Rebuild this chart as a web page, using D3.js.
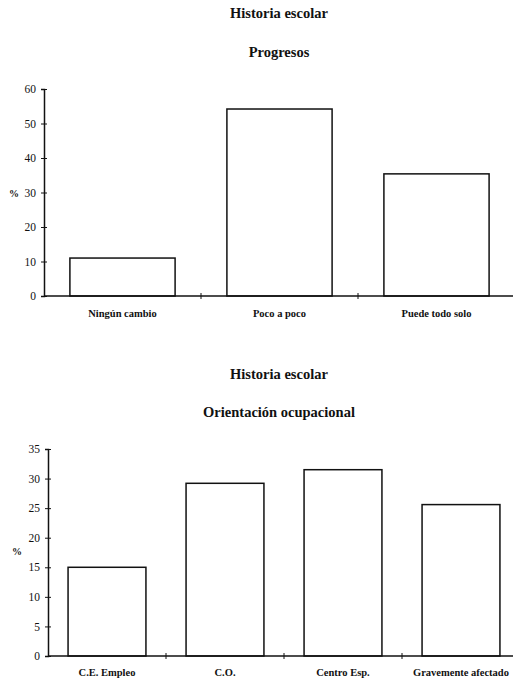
<!DOCTYPE html>
<html><head><meta charset="utf-8">
<script src="https://cdn.jsdelivr.net/npm/d3@7"></script>
<style>
body{margin:0;background:#fff;}
svg text{font-family:"Times New Roman","Liberation Serif","DejaVu Serif",Times,serif !important;}
</style></head>
<body><svg id="c" width="513" height="681"></svg>
<script>
const title1 = "Historia escolar";
const subtitle1 = "Progresos";
const categories1 = ["Ningún cambio","Poco a poco","Puede todo solo"];
const values1 = [11, 54.2, 35.4];
const yTicks1 = [0,10,20,30,40,50,60];

const title2 = "Historia escolar";
const subtitle2 = "Orientación ocupacional";
const categories2 = ["C.E. Empleo","C.O.","Centro Esp.","Gravemente afectado"];
const values2 = [15, 29.2, 31.5, 25.6];
const yTicks2 = [0,5,10,15,20,25,30,35];

const svg = d3.select("#c");

function txt(sel){ return sel.attr("font-family","Liberation Serif").attr("fill","#111"); }

function drawChart(cfg){
  const g = svg.append("g");
  txt(g.append("text")).attr("x",cfg.cx).attr("y",cfg.t1y).attr("text-anchor","middle")
    .style("font-size","14.5px").style("font-weight","bold").text(cfg.title);
  txt(g.append("text")).attr("x",cfg.cx).attr("y",cfg.t2y).attr("text-anchor","middle")
    .style("font-size","14.5px").style("font-weight","bold").text(cfg.subtitle);

  const x = d3.scaleBand().domain(cfg.cats).range([cfg.x0,cfg.x1]).paddingInner(cfg.pad).paddingOuter(cfg.pad/2);
  const y = d3.scaleLinear().domain([0,cfg.ymax]).range([cfg.y0,cfg.y1]);

  g.selectAll("rect.bar").data(cfg.vals).enter().append("rect")
    .attr("x",(d,i)=>x(cfg.cats[i])).attr("width",x.bandwidth())
    .attr("y",d=>y(d)).attr("height",d=>y(0)-y(d))
    .attr("fill","#fff").attr("stroke","#111").attr("stroke-width",1.5);

  const ya = d3.axisLeft(y).tickValues(cfg.ticks).tickSize(3).tickPadding(5);
  const yg = g.append("g").attr("transform",`translate(${cfg.x0},0)`).call(ya);
  yg.attr("font-family","Liberation Serif");
  yg.select(".domain").attr("stroke","#111").attr("stroke-width",1.5);
  yg.selectAll(".tick line").attr("x2",-3).attr("x1",3).attr("stroke","#111");
  txt(yg.selectAll(".tick text")).style("font-size","11.5px");

  const gap = (x.step()-x.bandwidth())/2;
  const xa = g.append("g").attr("transform",`translate(0,${cfg.y0})`);
  xa.append("line").attr("x1",cfg.x0).attr("x2",cfg.xend).attr("stroke","#111").attr("stroke-width",1.5);
  xa.selectAll("line.sep").data(cfg.cats.slice(1)).enter().append("line")
    .attr("x1",d=>x(d)-gap).attr("x2",d=>x(d)-gap)
    .attr("y1",-3).attr("y2",3).attr("stroke","#111");
  txt(xa.selectAll("text.cat").data(cfg.cats).enter().append("text"))
    .attr("x",d=>x(d)+x.bandwidth()/2).attr("y",cfg.labDy).attr("text-anchor","middle")
    .style("font-size","10.5px").style("font-weight","600").text(d=>d);

  txt(g.append("text")).attr("x",cfg.pctX).attr("y",cfg.pctY).attr("text-anchor","middle")
    .style("font-size","10px").style("font-weight","bold").text("%");
}

drawChart({title:title1,subtitle:subtitle1,cats:categories1,vals:values1,ticks:yTicks1,ymax:60,
  cx:279,t1y:18,t2y:57,x0:44,x1:515,xend:513,y0:296,y1:89,pad:0.33,labDy:21,pctX:14,pctY:197});
drawChart({title:title2,subtitle:subtitle2,cats:categories2,vals:values2,ticks:yTicks2,ymax:35,
  cx:279,t1y:379,t2y:417,x0:48,x1:520,xend:513,y0:656,y1:449,pad:0.34,labDy:20,pctX:17,pctY:555});
</script></body></html>
